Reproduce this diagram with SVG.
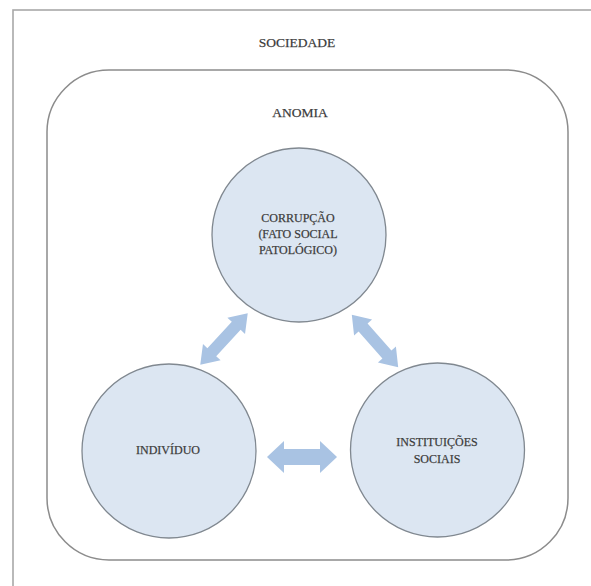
<svg xmlns="http://www.w3.org/2000/svg" xmlns:xlink="http://www.w3.org/1999/xlink" width="591" height="586" viewBox="0 0 591 586">
<style>
.lbl{font-family:"Liberation Serif","DejaVu Serif","Times New Roman",serif;font-size:12px;fill:#333333;text-anchor:middle;stroke:#555555;stroke-width:0.25}
.big{font-size:13.5px}
.node{fill:#dce6f2;stroke:#808890;stroke-width:1.3}
.arr{fill:#a9c3e3}
</style>
<defs>
<polygon id="dbl" points="-35,0 -18,-16 -18,-8 18,-8 18,-16 35,0 18,16 18,8 -18,8 -18,16"/>
</defs>
<rect width="591" height="586" fill="#ffffff"/>
<g id="sociedade">
<rect x="13" y="10" width="600" height="600" fill="none" stroke="#a8a8a8" stroke-width="1.6"/>
<text class="lbl big" x="297" y="47">SOCIEDADE</text>
</g>
<g id="anomia">
<rect x="47" y="70" width="521" height="490" rx="62" ry="62" fill="none" stroke="#8c8c8c" stroke-width="1.5"/>
<text class="lbl big" x="300" y="117">ANOMIA</text>
</g>
<g id="connectors" class="arr">
<use xlink:href="#dbl" transform="translate(224,339) rotate(-47.3) scale(1,0.75)"/>
<use xlink:href="#dbl" transform="translate(375,341) rotate(48.5) scale(1,0.75)"/>
<use xlink:href="#dbl" transform="translate(302,457)"/>
</g>
<g id="corrupcao">
<circle class="node" cx="299" cy="235" r="87"/>
<text class="lbl" x="298" y="222">CORRUPÇÃO</text>
<text class="lbl" x="298" y="238">(FATO SOCIAL</text>
<text class="lbl" x="298" y="254">PATOLÓGICO)</text>
</g>
<g id="individuo">
<circle class="node" cx="169" cy="451" r="87"/>
<text class="lbl" x="168" y="454">INDIVÍDUO</text>
</g>
<g id="instituicoes">
<circle class="node" cx="437.5" cy="450" r="87"/>
<text class="lbl" x="437" y="446">INSTITUIÇÕES</text>
<text class="lbl" x="437" y="463">SOCIAIS</text>
</g>
</svg>
